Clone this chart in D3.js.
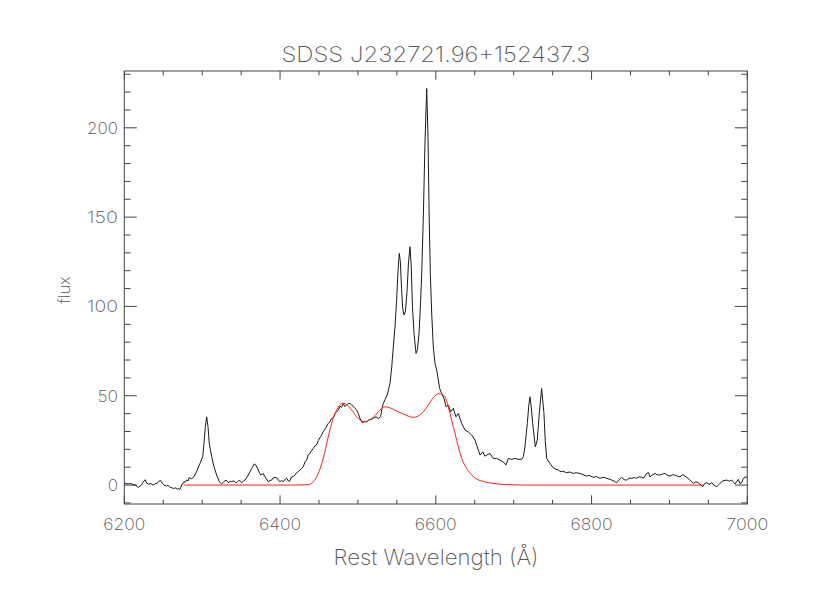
<!DOCTYPE html>
<html><head><meta charset="utf-8">
<script src="https://cdn.jsdelivr.net/npm/d3@7"></script>
<style>body{margin:0;background:#fff}text{font-family:Inter,"DejaVu Sans",sans-serif;font-weight:200;fill:#555}</style>
</head><body><svg id="c" width="830" height="593"></svg>
<script>
const titleText = "SDSS J232721.96+152437.3";
const xLabel = "Rest Wavelength (Å)";
const yLabel = "flux";
const xMajorTicks = [6200, 6400, 6600, 6800, 7000];
const yMajorTicks = [0, 50, 100, 150, 200];

const specWave = [6200,6201,6205,6207,6211,6214,6218,6222,6224,6226.6,6229,6231,6234,6237,6240,6242.4,6244,6246.7,6249,6251,6254.4,6256,6258.7,6261,6263,6266,6268,6270,6271.5,6273.7,6276.7,6278,6280.1,6282,6283.5,6286,6287.8,6290.8,6293.7,6297.2,6300.7,6302.3,6304,6305.8,6307.5,6309.1,6312.2,6315.2,6318.6,6322,6325.1,6328,6330.6,6333.5,6336,6337.9,6340.9,6342.5,6344.3,6347.7,6350.8,6353,6355,6359.2,6363.6,6366.9,6369.1,6372,6374,6375.2,6378.5,6380,6382,6384.9,6387,6389.3,6391,6393.5,6396.5,6398,6399.9,6402,6404.2,6406,6408.5,6410,6411.9,6414.9,6417,6419.2,6421,6423.4,6427.8,6430,6432,6434.2,6436.3,6438,6440,6442.7,6445,6447,6449.1,6452,6455.5,6458,6461.9,6464,6466.3,6469,6470.5,6472.7,6475,6477,6479,6481.2,6483,6485.5,6487,6489.8,6492,6494,6496,6498.4,6500.5,6502.7,6505.6,6508,6511.3,6514,6517.7,6520,6523.2,6526.2,6529.2,6530.5,6532.6,6535,6537.7,6541.2,6543.4,6545,6547.6,6549.5,6551.5,6553.1,6554.5,6556,6557.5,6559.2,6561,6563,6565,6566.9,6568.5,6570,6572,6574.6,6576.5,6578.5,6580.5,6582,6584,6586,6588.3,6590,6591.5,6593,6594.7,6596.8,6599,6601.2,6603.2,6605,6607.6,6610.5,6613.1,6616,6619.1,6622.5,6625.9,6628.9,6633.3,6637.5,6641.7,6646.1,6650.3,6654.6,6656.8,6660.2,6663,6665.4,6669.6,6673.8,6678.2,6682.4,6686.7,6690.1,6693.1,6697.5,6701.7,6705.9,6710.3,6712.5,6714.5,6717.5,6719.5,6721,6722.5,6724.4,6727.8,6730.3,6732.9,6735.9,6738.9,6740.5,6742.4,6746.6,6750.9,6754,6757.3,6759.5,6763,6768,6772,6776.6,6780,6785.2,6789,6793.8,6797,6802.3,6806,6810.8,6815,6819.5,6825.9,6829,6832.3,6835,6838.7,6842,6845.1,6848,6851.5,6855,6858,6861,6864.4,6867,6870.8,6873,6875.1,6878,6881.5,6884,6887.9,6891,6894.3,6897,6900.7,6904,6907.1,6910,6913.5,6917,6920,6925.5,6930.7,6934,6937.1,6942.7,6945,6947.9,6951,6954.3,6957,6960.7,6964,6967.1,6970,6973.5,6977,6980,6984.2,6988.5,6990.5,6992.8,6995,6997,7000];
const specFlux = [0.5,1,0.5,1,0.3,0,-1.3,0,1.5,3.0,1,0.6,0.8,0,0.8,1,2,2.6,0.8,0,-0.6,0,-1.3,-1.5,-1.9,-1.6,-2.4,-2.0,-2.4,0,1.9,1.5,2.8,2.3,4.3,3.5,3.8,5.6,8.4,12.1,15.9,23.3,32.6,38.2,32.6,23.3,15.9,10.2,5.6,1.9,0.6,1.9,2.8,1.3,2.2,1.9,2.4,1.5,1.3,2.8,1.3,2.2,2.8,5.6,9.3,11.8,11.2,8.4,6.5,5.6,6.5,5,3.8,1.9,2.5,2.8,4.0,4.3,3.8,2.5,1.9,2.5,1.9,3,3.8,2.8,1.9,4.6,4.8,5.6,6.8,7.5,9.3,10.5,13,14,17,17.5,19,20.5,22,22.5,25,27,29.8,31.5,34.5,35.5,37.3,38,40,41,42,44.2,43.5,45.7,44,44.8,45.5,45.7,44.8,44.2,43.0,42,40,37.3,34.9,35.5,35.4,36.5,36.8,37.5,38.2,37.3,38.2,42,45.7,48,50.5,57,66,75,88.6,102,120,129.7,125,110,99,95.2,97,108,125,133.4,122,100,85,73.7,76,85,103,120,150,190,222,195,150,118,96.3,77.4,68,64.4,58.8,54,51.3,48.5,43.8,44.8,41,42.9,38.2,40.1,34.5,30.8,29.8,28,25.2,19.6,16.8,18.6,16.2,16.8,17.7,14.9,14.9,14,13,11.2,14.9,14.4,14.9,14.4,14.4,16,21.4,34.5,45,49.4,44,34.5,21.4,25.2,40.1,54.1,40.1,25,14.9,12.1,9.6,8.8,8.5,7.5,7.8,6.9,7.3,6.5,6.9,6.5,5.8,5,5.4,4.3,4.8,3.8,4.4,3.8,2.8,2.2,1.3,2.8,4.3,3.0,2.8,3.8,3.8,4.2,3.8,4.6,4.3,4.0,6.5,7,4.6,5.6,6.5,5.8,5.6,6.2,6.5,5.6,5,5.8,5.6,5.0,4.6,5.8,5,3.2,1,1.8,1.3,-0.9,0.8,1.3,0.3,1.3,0,-0.9,0.5,1.9,2.5,2.8,2.2,2.8,0.6,3.2,0.8,1.3,3.8,4.3,4.6];

const modelWave = [6276,6420,6435,6440,6444,6447,6450,6453.5,6457,6459.9,6463,6466.3,6469.5,6472.7,6476,6480,6484,6488,6492,6496,6500.5,6505,6509.1,6513,6517.7,6522,6526.2,6530,6535,6540,6545.4,6552,6558.3,6565,6571,6577,6584,6588,6591.7,6596,6600,6604,6608,6611.8,6616,6620.4,6624.7,6628.9,6633.3,6639.7,6646.1,6652.5,6661,6670,6680,6695,6710,6943.5];
const modelFlux = [0,0,0.2,0.8,2.5,4.6,7.5,12,17.5,23.3,29,34.5,39,42,44.5,45.8,45.5,44,42,39.5,37.3,35.8,35.4,36,37.3,39,41,42.8,43.8,43.4,42.4,41,39.8,38.5,37.9,38.6,41,43.2,45.7,48.5,50.3,51.2,50.8,49.4,43.8,36.4,28.9,21.4,14.9,9.3,5.6,3.4,2.0,1.2,0.6,0.2,0,0];

const svg = d3.select("#c");
const L = 124.3, R = 747.3, T = 71, B = 504;
const x = d3.scaleLinear().domain([6200, 7000]).range([L, R]);
const y = d3.scaleLinear().domain([-10.6, 231.8]).range([B, T]);
const axCol = "#444";

svg.append("rect").attr("x", L).attr("y", T).attr("width", R - L).attr("height", B - T)
  .attr("fill", "none").attr("stroke", axCol).attr("stroke-width", 1);

const xMinor = d3.range(6200, 7001, 50);
const yMinor = d3.range(-10, 231, 10);
const xMajLen = 8.6, xMinLen = 4.3, yMajLen = 12.5, yMinLen = 6.2;
const g = svg.append("g").attr("stroke", axCol).attr("stroke-width", 1);
xMinor.forEach(v => {
  const len = (v % 200 === 0) ? xMajLen : xMinLen;
  g.append("line").attr("x1", x(v)).attr("x2", x(v)).attr("y1", B).attr("y2", B - len);
  g.append("line").attr("x1", x(v)).attr("x2", x(v)).attr("y1", T).attr("y2", T + len);
});
yMinor.forEach(v => {
  const len = (v % 50 === 0) ? yMajLen : yMinLen;
  g.append("line").attr("x1", L).attr("x2", L + len).attr("y1", y(v)).attr("y2", y(v));
  g.append("line").attr("x1", R).attr("x2", R - len).attr("y1", y(v)).attr("y2", y(v));
});

xMajorTicks.forEach(v => {
  svg.append("text").attr("x", x(v)).attr("y", 529.5).attr("text-anchor", "middle")
    .attr("font-size", 16.5).attr("textLength", 42).attr("lengthAdjust", "spacingAndGlyphs").text(v);
});
yMajorTicks.forEach(v => {
  const s = String(v);
  svg.append("text").attr("x", 118).attr("y", y(v) + 6).attr("text-anchor", "end")
    .attr("font-size", 16.5).attr("textLength", 10.3 * s.length).attr("lengthAdjust", "spacingAndGlyphs").text(s);
});

svg.append("text").attr("x", 436).attr("y", 62).attr("text-anchor", "middle")
  .attr("font-size", 21).attr("textLength", 309).attr("lengthAdjust", "spacingAndGlyphs").text(titleText);
svg.append("text").attr("x", 436).attr("y", 565).attr("text-anchor", "middle")
  .attr("font-size", 22).attr("textLength", 205).attr("lengthAdjust", "spacingAndGlyphs").text(xLabel);
svg.append("text").attr("transform", "translate(70,290) rotate(-90)").attr("text-anchor", "middle")
  .attr("font-size", 16.5).text(yLabel);

svg.append("clipPath").attr("id", "clip").append("rect")
  .attr("x", L).attr("y", T).attr("width", R - L).attr("height", B - T);
const line = d3.line().x(d => x(d[0])).y(d => y(d[1]));
svg.append("path").datum(specWave.map((w, i) => [w, specFlux[i]]))
  .attr("d", line).attr("fill", "none").attr("stroke", "#1a1a1a").attr("stroke-width", 1)
  .attr("clip-path", "url(#clip)");
svg.append("path").datum(modelWave.map((w, i) => [w, modelFlux[i]]))
  .attr("d", line.curve(d3.curveMonotoneX)).attr("fill", "none").attr("stroke", "#ff2020").attr("stroke-width", 1)
  .attr("clip-path", "url(#clip)");
</script></body></html>
